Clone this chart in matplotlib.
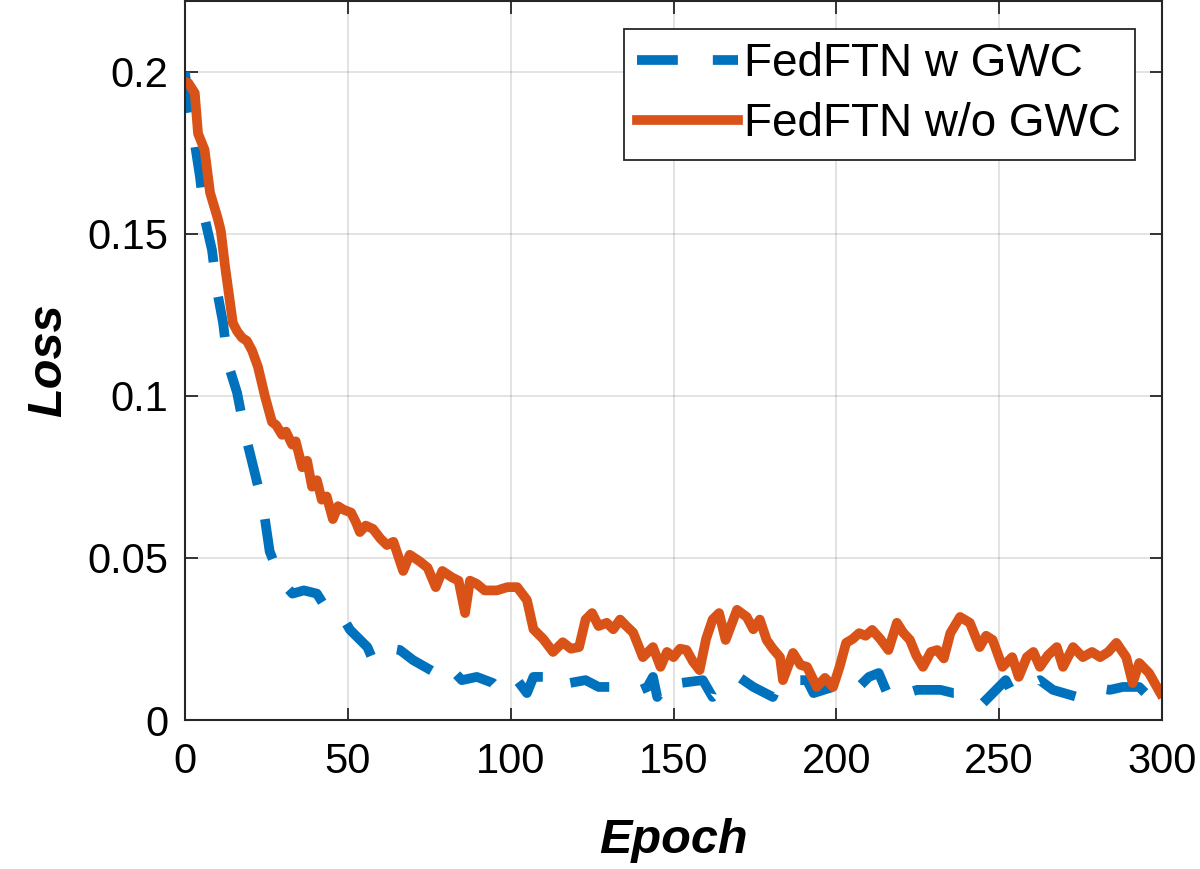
#=========================#
#  module                 #
#=========================#
import numpy as np
import matplotlib
matplotlib.use('Agg')
import matplotlib.pyplot as plt

plt.rcParams['font.family'] = ['Liberation Sans', 'DejaVu Sans']

#=========================#
#  data   #
#=========================#
epoch_w = [0, 1, 3, 4.6, 6, 8.3, 9.8, 11.7, 13.2, 16, 18.4, 21, 24, 26, 28, 30, 33, 36.5,
           40.5, 43.6, 47.6, 50.7, 56, 57.7, 61, 66, 70, 77, 80, 85, 89.6, 94.6, 97.6,
           102, 105, 107, 111, 115, 118, 123, 127, 134.5, 137.6, 142, 143.7, 145, 149,
           152, 159, 162, 167, 170, 174.5, 180.5, 182.7, 191, 193, 199, 200, 206, 210,
           213, 216.5, 221.7, 224.8, 232, 236, 243, 245, 252, 254, 262.5, 266.5, 274,
           278, 284, 288, 293, 297, 299.5]
loss_w = [0.200, 0.190, 0.178, 0.1676, 0.155, 0.145, 0.1327, 0.1225, 0.110, 0.101, 0.0886,
          0.078, 0.0657, 0.052, 0.047, 0.0423, 0.039, 0.040, 0.039, 0.034, 0.033, 0.0278,
          0.0225, 0.0185, 0.0225, 0.0216, 0.0185, 0.0145, 0.0176, 0.0123, 0.0133, 0.0114,
          0.0083, 0.0123, 0.0083, 0.0133, 0.0133, 0.0093, 0.0114, 0.0123, 0.0102, 0.0102,
          0.0083, 0.0102, 0.0133, 0.0071, 0.0133, 0.0114, 0.0123, 0.0071, 0.0114, 0.0133,
          0.0102, 0.0071, 0.0123, 0.0123, 0.0083, 0.0102, 0.0083, 0.0093, 0.0133, 0.0145,
          0.0062, 0.0083, 0.0093, 0.0093, 0.0083, 0.0083, 0.0052, 0.0123, 0.0083, 0.0123,
          0.0093, 0.0071, 0.0102, 0.0093, 0.0102, 0.0102, 0.0062, 0.0083]

epoch_wo = [0, 1, 3, 4, 6, 7.7, 10, 11, 12.3, 14.7, 16, 17.5, 19, 20.6, 22.4, 24.6, 26.7,
            28, 29.8, 31, 32.9, 34, 36, 37.5, 39, 40.5, 42, 43.5, 45.4, 47, 48.5, 51, 52.5,
            53.7, 55.5, 57.7, 60, 62, 64, 67, 69, 72, 74.5, 77, 79, 82, 84, 86, 87.5, 89.6,
            92, 95.8, 99, 102, 105, 107, 110, 113, 116, 118.5, 121, 123, 125, 127, 129.5,
            131.5, 133.6, 135.5, 137.6, 140.6, 143.7, 146, 148, 150, 152, 154, 156, 158,
            160, 162, 164, 166, 169.5, 172.5, 174.5, 176.5, 178.6, 180.5, 182.7, 183.6,
            186.7, 189, 191, 194, 196.5, 199, 201, 203, 205, 207, 209, 211, 213.5, 216,
            218.6, 220.5, 222.6, 224.5, 226.6, 229, 231, 233, 235, 238, 241, 244, 246, 248,
            251, 254, 256, 258.5, 260.5, 262.5, 265, 267.7, 269.6, 272.7, 275.7, 278.5,
            281, 283.5, 286, 289, 291, 293, 296, 299.5]
loss_wo = [0.197, 0.1966, 0.1935, 0.181, 0.176, 0.1627, 0.155, 0.151, 0.140, 0.1225, 0.120,
           0.118, 0.117, 0.114, 0.109, 0.0997, 0.092, 0.091, 0.088, 0.089, 0.085, 0.086,
           0.078, 0.080, 0.072, 0.074, 0.068, 0.069, 0.062, 0.066, 0.065, 0.064, 0.061,
           0.058, 0.060, 0.059, 0.056, 0.054, 0.055, 0.046, 0.051, 0.049, 0.047, 0.041,
           0.046, 0.044, 0.043, 0.033, 0.043, 0.042, 0.040, 0.040, 0.041, 0.041, 0.037,
           0.028, 0.025, 0.021, 0.024, 0.022, 0.0225, 0.031, 0.033, 0.029, 0.030, 0.028,
           0.031, 0.029, 0.027, 0.0194, 0.0225, 0.0164, 0.021, 0.0194, 0.022, 0.0216,
           0.018, 0.0154, 0.025, 0.031, 0.033, 0.0247, 0.034, 0.0318, 0.028, 0.031, 0.0247,
           0.022, 0.0194, 0.0123, 0.0207, 0.017, 0.0164, 0.0102, 0.013, 0.0102, 0.0164,
           0.0238, 0.025, 0.0268, 0.026, 0.0278, 0.025, 0.0216, 0.030, 0.027, 0.0247,
           0.020, 0.0164, 0.021, 0.0216, 0.019, 0.0268, 0.0318, 0.030, 0.0225, 0.026,
           0.0247, 0.0164, 0.0194, 0.0133, 0.0194, 0.021, 0.0164, 0.020, 0.0225, 0.0164,
           0.0225, 0.0194, 0.021, 0.0194, 0.021, 0.0238, 0.0194, 0.0114, 0.0176, 0.0145,
           0.0083]

labels = ['FedFTN w GWC', 'FedFTN w/o GWC']
x_ticks = [0, 50, 100, 150, 200, 250, 300]
y_ticks = [0, 0.05, 0.1, 0.15, 0.2]
y_tick_labels = ['0', '0.05', '0.1', '0.15', '0.2']

#=========================#
#  figure                 #
#=========================#
fig = plt.figure(figsize=(12, 8.69), dpi=100, facecolor='white')
ax = fig.add_axes([185/1200, 149/869, 977/1200, 719/869], facecolor='white')

ln1, = ax.plot(epoch_w, loss_w, c='#0072BD', linewidth=7, label=labels[0])
ln1.set_dashes([4.2, 3.6])
ln1.set_dash_capstyle('butt')
ax.plot(epoch_wo, loss_wo, c='#D95319', linewidth=7, label=labels[1])

# lim
ax.set_xlim(0, 300)
ax.set_ylim(0, 0.2219)

# ticks
ax.set_xticks(x_ticks)
ax.set_yticks(y_ticks)
ax.set_yticklabels(y_tick_labels)
ax.tick_params(axis='both', which='major', direction='in', length=9, width=1.3,
               labelsize=30, top=True, right=True, colors='#262626')
ax.tick_params(axis='x', pad=16)
ax.tick_params(axis='y', pad=12)
ax.tick_params(labelcolor='black')
ax.minorticks_off()
for s in ax.spines.values():
    s.set_linewidth(1.5)
    s.set_color('#262626')

# grid
ax.grid(which='major', color='#262626', alpha=0.15, linewidth=1.2)
ax.set_axisbelow(True)

# axis label
ax.set_xlabel('Epoch', fontsize=35, fontweight='bold', fontstyle='italic', labelpad=26)
ax.set_ylabel('Loss', fontsize=35, fontweight='bold', fontstyle='italic', labelpad=12)

# legend
leg = ax.legend(loc='upper right', fontsize=33, fancybox=False, framealpha=1,
                edgecolor='#262626', handlelength=2.2, handletextpad=0.12,
                borderaxespad=0.6, borderpad=0.3, labelspacing=0.35)
leg.get_frame().set_linewidth(1.3)

# save
fig.savefig('out.png', dpi=100, facecolor='white')
plt.close()
